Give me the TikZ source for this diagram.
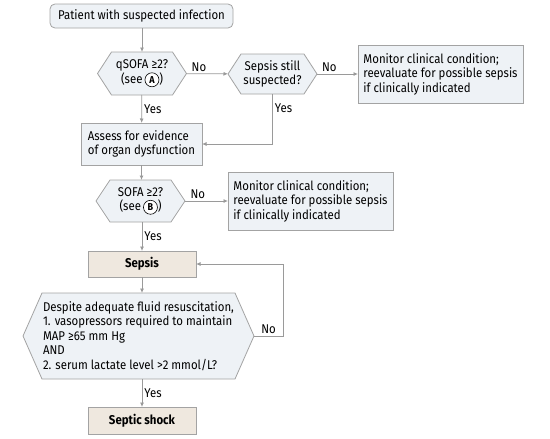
\documentclass[tikz,border=0pt]{standalone}
\usepackage{fontspec}
\setmainfont{Fira Sans}[FakeStretch=0.9]
\usetikzlibrary{arrows.meta,backgrounds}
\definecolor{linegray}{HTML}{A3A3A3}
\definecolor{arrowgray}{HTML}{9A9A9A}
\definecolor{bluefill}{HTML}{EEF2F6}
\definecolor{tanfill}{HTML}{EFE8DF}
\newcommand{\seeletter}[1]{\tikz[baseline=(l.base)]\node[circle,draw=black,fill=white,line width=0.6pt,inner sep=0.3pt,minimum size=14pt,font=\fontsize{10}{10}\selectfont\bfseries](l){#1};}
\tikzset{
    txt/.style={font=\fontsize{12.7}{14.4}\selectfont},
    box/.style={txt, draw=linegray, fill=bluefill, line width=0.8pt, inner sep=0pt, outer sep=0pt, align=left},
    hexa/.style={txt, inner sep=0pt, outer sep=0pt, align=center},
    tanbox/.style={box, fill=tanfill, align=center, font=\fontsize{12.7}{14.4}\selectfont\bfseries},
    hexline/.style={draw=linegray, fill=bluefill, line width=0.8pt},
    arr/.style={-{Latex[length=4.5pt,width=4pt]}, draw=arrowgray, line width=0.8pt},
    lbl/.style={txt, inner sep=2pt}
}

\begin{document}
\begin{tikzpicture}[x=1pt,y=-1pt]
    \useasboundingbox (0,0) rectangle (550,439);

    % first question
    \node[box, rounded corners=5pt, align=center, minimum width=183, minimum height=24] (patient) at (141.5,16) {Patient with suspected infection};
    \node[hexa, minimum width=89, minimum height=43] (qsofa) at (142,73.5) {qSOFA ≥2?\\(see\,\seeletter{A})};
    \node[hexa, minimum width=89, minimum height=40] (still) at (272.5,74) {Sepsis still\\suspected?};
    \node[box, minimum width=165, minimum height=58] (monitorA) at (440.5,74) {Monitor clinical condition;\\reevaluate for possible sepsis\\if clinically indicated};

    % organ dysfunction
    \node[box, minimum width=121, minimum height=42] (assess) at (141.5,144) {Assess for evidence\\of organ dysfunction};
    \node[hexa, minimum width=89, minimum height=42] (sofa) at (140.5,201) {SOFA ≥2?\\(see\,\seeletter{B})};
    \node[box, minimum width=165, minimum height=58] (monitorB) at (310.5,201) {Monitor clinical condition;\\reevaluate for possible sepsis\\if clinically indicated};

    % sepsis and shock
    \node[tanbox, minimum width=108, minimum height=26] (sepsis) at (142,264) {Sepsis};
    \node[hexa, align=left, minimum width=231, minimum height=86] (shock) at (138.5,336) {Despite adequate fluid resuscitation,\\1. vasopressors required to maintain\\MAP ≥65 mm Hg\\AND\\2. serum lactate level >2 mmol/L?};
    \node[tanbox, minimum width=108, minimum height=27] (septic) at (142,420.5) {Septic shock};

    % hexagons behind the questions
    \begin{scope}[on background layer]
        \foreach \n/\d in {qsofa/14, still/13, sofa/14, shock/19}
            \draw[hexline] (\n.west) -- ([xshift=\d]\n.north west) -- ([xshift=-\d]\n.north east) -- (\n.east)
                -- ([xshift=-\d]\n.south east) -- ([xshift=\d]\n.south west) -- cycle;
    \end{scope}

    % connectors
    \draw[arr] (patient.south -| qsofa) -- (qsofa);
    \draw[arr] (qsofa) -- node[lbl, pos=0.3, above] {No} (still);
    \draw[arr] (still) -- node[lbl, pos=0.3, above] {No} (monitorA);
    \draw[arr] (qsofa) -- node[lbl, right] {Yes} (assess);
    \draw[arr] (still.south) |- node[lbl, pos=0.14, right] {Yes} (assess.east);
    \draw[arr] (assess) -- (sofa.north -| assess);
    \draw[arr] (sofa) -- node[lbl, pos=0.3, above] {No} (monitorB);
    \draw[arr] (sofa.south -| sepsis) -- node[lbl, right] {Yes} (sepsis);
    \draw[arr] (sepsis) -- (shock.north -| sepsis);
    \draw[arr] (shock.south -| septic) -- node[lbl, right] {Yes} (septic);
    \draw[arr] (shock.east) -- node[lbl, above] {No} ++(29,0) |- (sepsis.east);
\end{tikzpicture}
\end{document}
